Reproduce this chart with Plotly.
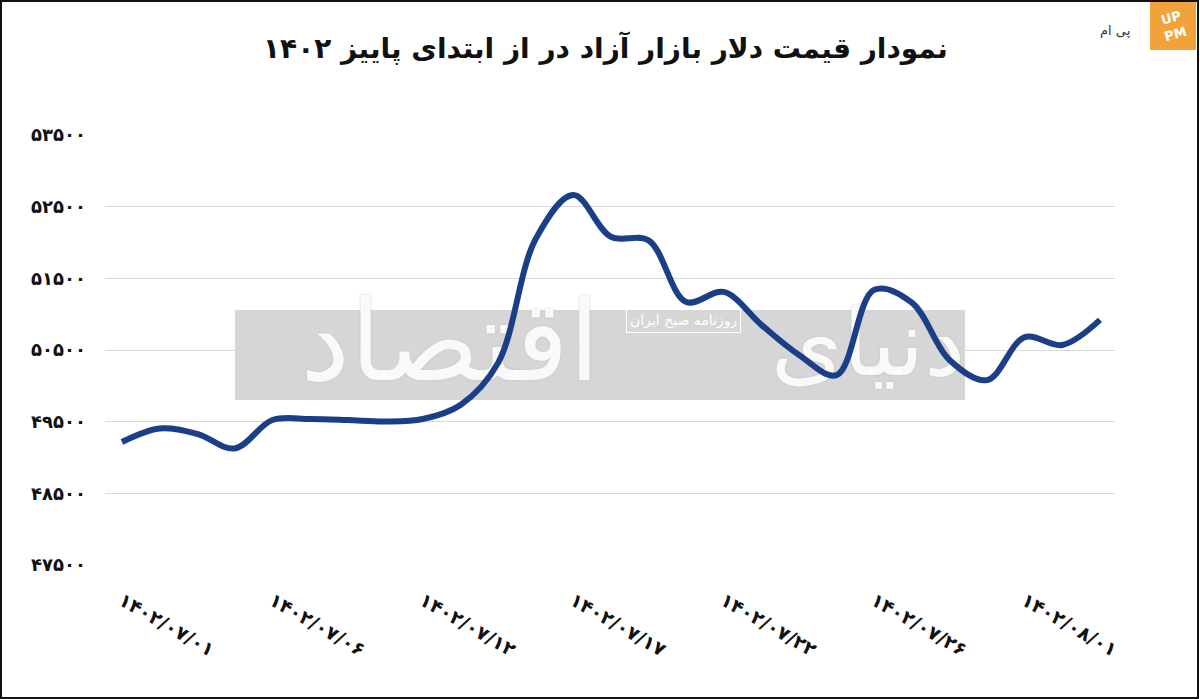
import plotly.graph_objects as go

# ---- data ----
title_text = "نمودار قیمت دلار بازار آزاد در از ابتدای پاییز ۱۴۰۲"
day_index = list(range(27))
prices = [49216, 49405, 49330, 49126, 49523, 49537, 49523, 49502, 49537, 49733,
          50320, 52050, 52663, 52080, 52030, 51170, 51310, 50850, 50430, 50150,
          51340, 51160, 50360, 50080, 50680, 50570, 50920]
x_tick_positions = [0, 4, 8, 12, 16, 20, 24]
x_tick_labels = ["۱۴۰۲/۰۷/۰۱", "۱۴۰۲/۰۷/۰۶", "۱۴۰۲/۰۷/۱۲", "۱۴۰۲/۰۷/۱۷",
                 "۱۴۰۲/۰۷/۲۲", "۱۴۰۲/۰۷/۲۶", "۱۴۰۲/۰۸/۰۱"]
y_tick_values = [47500, 48500, 49500, 50500, 51500, 52500, 53500]
y_tick_labels = ["۴۷۵۰۰", "۴۸۵۰۰", "۴۹۵۰۰", "۵۰۵۰۰", "۵۱۵۰۰", "۵۲۵۰۰", "۵۳۵۰۰"]
watermark_words = ["اقتصاد", "دنیای"]
watermark_sub = "روزنامه صبح ایران"

W, H = 1200, 699
L, R, T, B = 105, 85, 135, 134
PW, PH = W - L - R, H - T - B
X_RANGE = [-0.45, 26.4]
Y_RANGE = [47500, 53500]


def px(x):
    return (x - L) / PW


def py(y):
    return 1 - (y - T) / PH


def data_x(x):
    return X_RANGE[0] + px(x) * (X_RANGE[1] - X_RANGE[0])


def data_y(y):
    return Y_RANGE[0] + py(y) * (Y_RANGE[1] - Y_RANGE[0])


FONT = "DejaVu Sans"

fig = go.Figure()
# watermark calligraphy (drawn under the price line)
fig.add_trace(go.Scatter(
    x=[data_x(450)], y=[data_y(352)], mode="text", text=[watermark_words[0]],
    textposition="middle center",
    textfont=dict(family=FONT, size=112, color="rgba(255,255,255,0.9)",
                  shadow="0px 0px 2px #bdbdbd"),
    hoverinfo="skip", showlegend=False,
))
fig.add_trace(go.Scatter(
    x=[data_x(868)], y=[data_y(352)], mode="text", text=[watermark_words[1]],
    textposition="middle center",
    textfont=dict(family=FONT, size=92, color="rgba(255,255,255,0.9)",
                  shadow="0px 0px 2px #bdbdbd"),
    hoverinfo="skip", showlegend=False,
))
fig.add_trace(go.Scatter(
    x=day_index, y=prices, mode="lines",
    line=dict(color="#1b3f86", width=6, shape="spline", smoothing=1.0),
    hoverinfo="skip", showlegend=False,
))

shapes = [
    dict(type="rect", xref="paper", yref="paper", x0=px(235), x1=px(965),
         y0=py(400), y1=py(310), fillcolor="#d6d6d6", line=dict(width=0), layer="below"),
    dict(type="rect", xref="paper", yref="paper", x0=px(1150), x1=px(1196),
         y0=py(50), y1=py(2), fillcolor="#f2a23a", line=dict(width=0), layer="above"),
    dict(type="rect", xref="paper", yref="paper", x0=px(1), x1=px(1198),
         y0=py(698), y1=py(1), line=dict(color="#111111", width=2),
         fillcolor="rgba(0,0,0,0)", layer="above"),
]

annotations = [
    dict(text="<b>" + title_text + "</b>", xref="paper", yref="paper",
         x=px(605), y=py(48), showarrow=False, xanchor="center", yanchor="middle",
         font=dict(family=FONT, size=28, color="#111111")),
    dict(text=watermark_sub, xref="paper", yref="paper", x=px(683), y=py(320),
         showarrow=False, xanchor="center", yanchor="middle",
         font=dict(family=FONT, size=14, color="#ffffff"),
         bordercolor="#ffffff", borderwidth=1, borderpad=3),
    dict(text="<b>UP<br>PM</b>", xref="paper", yref="paper", x=px(1173), y=py(26),
         showarrow=False, xanchor="center", yanchor="middle", textangle=-15,
         font=dict(family=FONT, size=13, color="#ffffff")),
    dict(text="پی ام", xref="paper", yref="paper", x=px(1115), y=py(30),
         showarrow=False, xanchor="center", yanchor="middle",
         font=dict(family=FONT, size=13, color="#333333")),
]

fig.update_layout(
    width=W, height=H,
    margin=dict(l=L, r=R, t=T, b=B, autoexpand=False),
    paper_bgcolor="#ffffff", plot_bgcolor="#ffffff",
    shapes=shapes, annotations=annotations,
    showlegend=False,
    xaxis=dict(
        range=X_RANGE, tickmode="array", tickvals=x_tick_positions,
        ticktext=["<b>" + t + "</b>" for t in x_tick_labels],
        tickangle=30, showgrid=False, zeroline=False, showline=False,
        ticks="", ticklabelstandoff=20,
        tickfont=dict(family=FONT, size=19, color="#111111"),
    ),
    yaxis=dict(
        range=Y_RANGE, tickmode="array", tickvals=y_tick_values,
        ticktext=["<b>" + t + "</b>" for t in y_tick_labels],
        showgrid=True, gridcolor="#d9d9d9", gridwidth=1,
        zeroline=False, showline=False, ticks="", ticklabelstandoff=18,
        tickfont=dict(family=FONT, size=18, color="#111111"),
    ),
)

fig.write_html("out.html", config={"displayModeBar": False},
               post_script="document.body.style.margin='0px';")
